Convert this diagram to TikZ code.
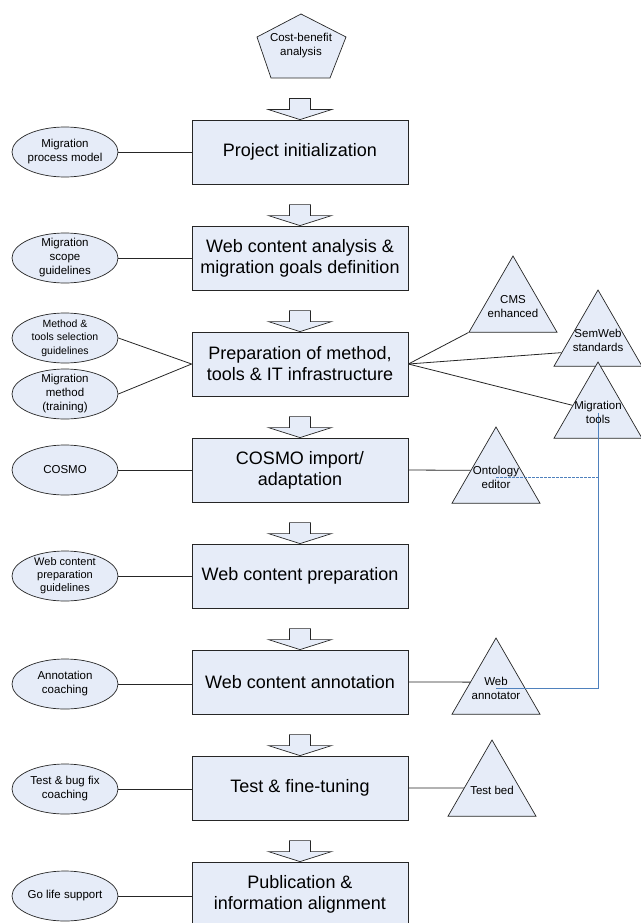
\documentclass[tikz,border=0pt]{standalone}
\usepackage{fontspec}
\setmainfont{Liberation Sans}
\usetikzlibrary{shapes.geometric,calc}
\definecolor{fillc}{HTML}{E6ECF8}
\definecolor{linkblue}{HTML}{4F81BD}
\begin{document}
\begin{tikzpicture}[x=1pt,y=-1pt,
  stepbox/.style={draw=black!85, fill=fillc, minimum width=216pt, minimum height=64pt,
     inner sep=0pt, align=center, font=\fontsize{18}{21}\selectfont, line width=0.8pt},
  ell/.style={ellipse, draw=black!85, fill=fillc, minimum width=106pt, minimum height=50pt,
     inner sep=0pt, line width=0.7pt},
  elltext/.style={align=center, inner sep=0pt, font=\fontsize{11.5}{14}\selectfont},
  tool/.style={regular polygon, regular polygon sides=3, minimum size=101.6pt,
     inner sep=0pt, draw=black!85, fill=fillc, line width=0.7pt},
  tooltext/.style={align=center, inner sep=0pt, font=\fontsize{11.5}{14}\selectfont},
  conn/.style={draw=black!85, line width=0.8pt},
  blockarrow/.style={draw=black!85, fill=fillc, line width=0.7pt},
  bluelink/.style={draw=linkblue, line width=0.9pt}]
\useasboundingbox (0,0) rectangle (640,923);

% pentagon
\draw[blockarrow] (301,14) coordinate (p1) -- (346,37) coordinate (p2) -- (330,78) coordinate (p3)
   -- (271,78) coordinate (p4) -- (257,37) coordinate (p5) -- cycle;
\node[elltext] (cb) at (301,46) {Cost-benefit\\analysis};

% process boxes
\node[stepbox] (b1) at (300,152) {Project initialization};
\node[stepbox] (b2) at (300,258) {Web content analysis \&\\migration goals definition};
\node[stepbox] (b3) at (300,364) {Preparation of method,\\tools \& IT infrastructure};
\node[stepbox] (b4) at (300,470) {COSMO import/\\adaptation};
\node[stepbox] (b5) at (300,576) {Web content preparation};
\node[stepbox] (b6) at (300,682) {Web content annotation};
\node[stepbox] (b7) at (300,788) {Test \& fine-tuning};
\node[stepbox] (b8) at (300,894) {Publication \&\\information alignment};

% block arrows
\foreach \b in {b1,b2,b3,b4,b5,b6,b7,b8}{
  \draw[blockarrow] ($(\b.north)+(-10.5,-21)$) -- ($(\b.north)+(10.5,-21)$)
     -- ($(\b.north)+(10.5,-10)$) -- ($(\b.north)+(31.5,-10)$) -- (\b.north)
     -- ($(\b.north)+(-31.5,-10)$) -- ($(\b.north)+(-10.5,-10)$) -- cycle;
}

% ellipses
\node[ell] (e1) at (65,152) {};
\node[elltext] (e1t) at (e1) {Migration\\process model};
\node[ell] (e2) at (65,258) {};
\node[elltext] (e2t) at (e2) {Migration\\scope\\guidelines};
\node[ell] (e3) at (65,338) {};
\node[elltext, font=\fontsize{10.5}{13.5}\selectfont] (e3t) at (e3) {Method \&\\tools selection\\guidelines};
\node[ell] (e4) at (65,394) {};
\node[elltext] (e4t) at (e4) {Migration\\method\\(training)};
\node[ell] (e5) at (65,470) {};
\node[elltext] (e5t) at (e5) {COSMO};
\node[ell] (e6) at (65,576) {};
\node[elltext, font=\fontsize{11}{13}\selectfont] (e6t) at (e6) {Web content\\preparation\\guidelines};
\node[ell] (e7) at (65,684) {};
\node[elltext] (e7t) at (e7) {Annotation\\coaching};
\node[ell] (e8) at (65,789) {};
\node[elltext] (e8t) at (e8) {Test \& bug fix\\coaching};
\node[ell] (e9) at (65,896) {};
\node[elltext] (e9t) at (e9) {Go life support};

% ellipse connectors
\draw[conn] (e1.east) -- (e1.east -| b1.west);
\draw[conn] (e2.east) -- (e2.east -| b2.west);
\draw[conn] (e3.east) -- (b3.west);
\draw[conn] (e4.east) -- (b3.west);
\draw[conn] (e5.east) -- (b4.west);
\draw[conn] (e6.east) -- (b5.west);
\draw[conn] (e7.east) -- (e7.east -| b6.west);
\draw[conn] (e8.east) -- (e8.east -| b7.west);
\draw[conn] (e9.east) -- (e9.east -| b8.west);

% tools (triangles)
\node[tool] (cms) at (513,306.8) {};
\node[tool] (sem) at (598,340.8) {};
\node[tool] (mig) at (598,412.8) {};
\node[tool] (ont) at (496,477.8) {};
\node[tool] (wa)  at (496,688.8) {};
\node[tool] (tb)  at (492,790.8) {};

% tool connectors
\draw[conn] (b3.east) -- (cms.corner 2);
\draw[conn] (b3.east) -- ($(sem.corner 1)!0.82!(sem.corner 2)$);
\draw[conn] (b3.east) -- ($(mig.corner 1)!0.57!(mig.corner 2)$);
\draw[conn] (b4.east) -- ($(ont.corner 1)!0.57!(ont.corner 2)$ |- b4.east);
\draw[conn] (b6.east) -- ($(wa.corner 1)!0.58!(wa.corner 2)$ |- b6.east);
\draw[conn] (b7.east) -- ($(tb.corner 1)!0.63!(tb.corner 2)$ |- b7.east);

% blue links
\draw[bluelink] (mig.center) -- (mig.center |- wa.center) -- (wa.center);
\draw[bluelink, dash pattern=on 3pt off 1pt] (ont.center) -- (ont.center -| mig.center);

% tool texts
\node[tooltext] (cmst) at (cms) {CMS\\enhanced};
\node[tooltext] (semt) at (sem) {SemWeb\\standards};
\node[tooltext] (migt) at (mig) {Migration\\tools};
\node[tooltext] (ontt) at (ont) {Ontology\\editor};
\node[tooltext] (wat)  at (wa)  {Web\\annotator};
\node[tooltext] (tbt)  at (tb)  {Test bed};
\end{tikzpicture}
\end{document}
